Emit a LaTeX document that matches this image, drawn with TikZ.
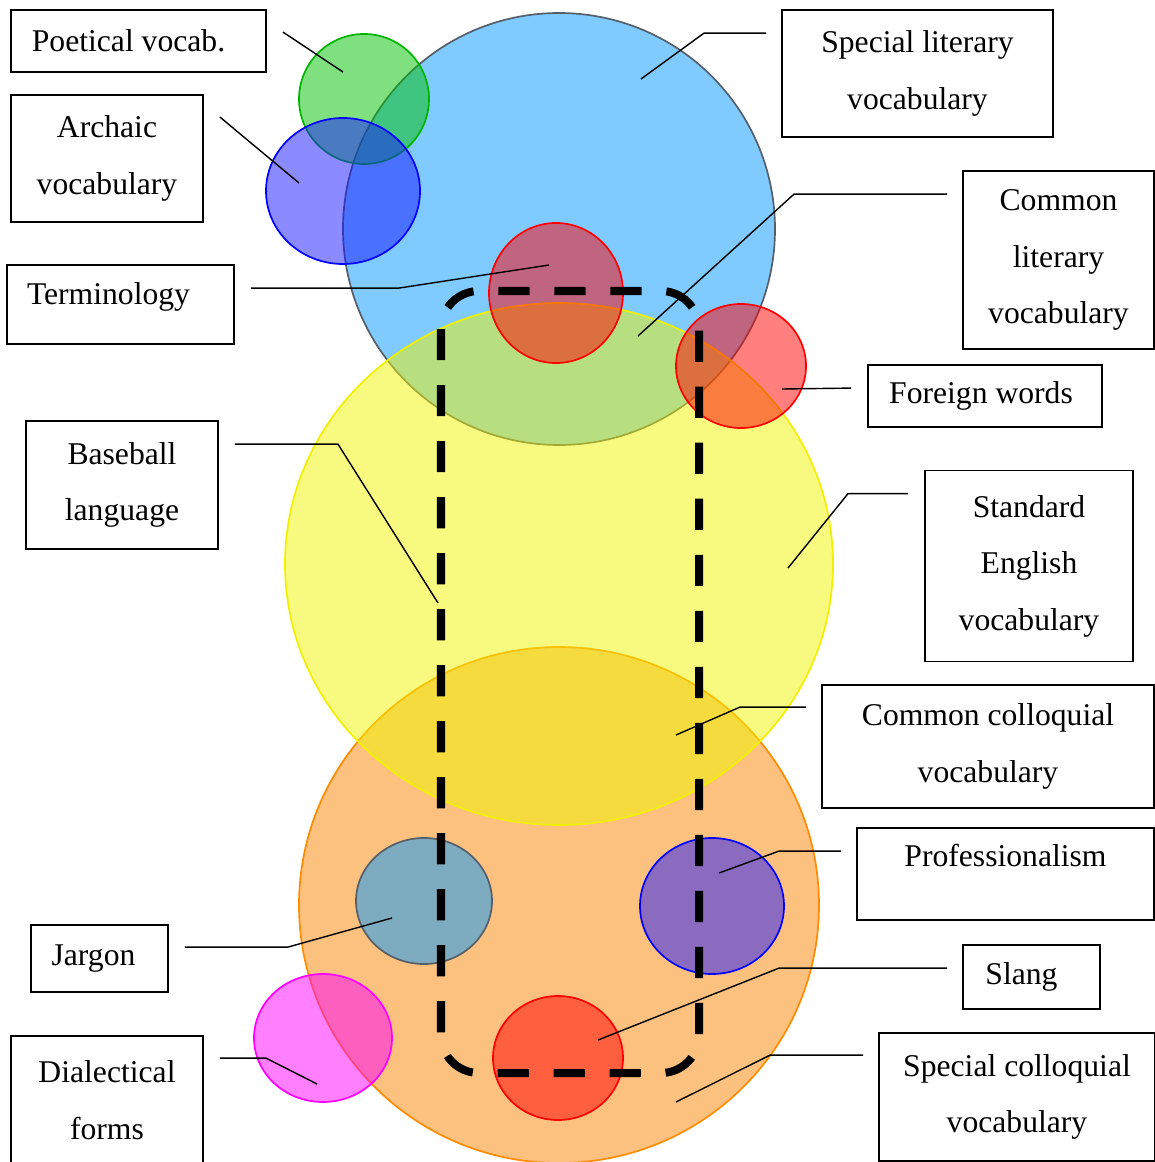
\documentclass[tikz,border=0pt]{standalone}
\usepackage{fontspec}
\setmainfont{Liberation Serif}
\usetikzlibrary{calc}

\definecolor{skyfill}{RGB}{0,150,255}
\definecolor{edgegray}{RGB}{85,95,105}
\definecolor{sunfill}{RGB}{240,245,0}
\definecolor{sunedge}{RGB}{240,240,0}
\definecolor{orfill}{RGB}{251,131,0}
\definecolor{oredge}{RGB}{255,140,0}
\definecolor{grfill}{RGB}{0,193,0}
\definecolor{gredge}{RGB}{0,180,0}
\definecolor{bufill}{RGB}{23,23,255}
\definecolor{puredge}{RGB}{0,0,255}
\definecolor{redfill}{RGB}{255,0,0}
\definecolor{magfill}{RGB}{255,0,255}

\begin{document}
\begin{tikzpicture}[x=0.025cm,y=-0.025cm,
  lbl/.style={draw,line width=1.3pt,inner sep=0pt,align=center,
    font=\fontsize{22.5}{40.2}\selectfont},
  leader/.style={line width=1pt},
  blob/.style={line width=1.2pt,fill opacity=0.5},
  dashbox/.style={line width=5.7pt,dash pattern=on 0.78cm off 0.62cm,rounded corners=0.95cm}]
\clip (0,0) rectangle (1155,1162);

\draw[blob,draw=edgegray,fill=skyfill] (559,229) ellipse [x radius=216,y radius=216];
\draw[blob,draw=oredge,fill=orfill] (559,905) ellipse [x radius=260,y radius=258];
\draw[blob,draw=sunedge,fill=sunfill] (559,564) ellipse [x radius=274,y radius=261];

\draw[blob,draw=gredge,fill=grfill] (364,99) ellipse [x radius=65,y radius=65];
\draw[blob,draw=puredge,fill=bufill] (343,191) ellipse [x radius=77,y radius=73];
\draw[blob,draw=redfill,fill=redfill] (556,293) ellipse [x radius=67,y radius=70];
\draw[blob,draw=redfill,fill=redfill] (741,366) ellipse [x radius=65,y radius=62];
\draw[blob,draw=edgegray,fill=skyfill] (424,901) ellipse [x radius=68,y radius=63];
\draw[blob,draw=puredge,fill=bufill] (712,906) ellipse [x radius=72,y radius=68];
\draw[blob,draw=redfill,fill=redfill] (558,1058) ellipse [x radius=65,y radius=62];
\draw[blob,draw=magfill,fill=magfill] (323,1038) ellipse [x radius=69,y radius=64];

\draw[dashbox] (441,291) rectangle (699,1073);

\node[lbl,minimum width=6.375cm,minimum height=1.55cm] (poet) at (138.5,41) {Poetical vocab.\hspace*{0.5cm}};
\node[lbl,minimum width=4.8cm,minimum height=3.175cm] (arch) at (107,158.5) {Archaic\\vocabulary};
\node[lbl,minimum width=5.675cm,minimum height=1.975cm,text depth=0.55cm] (term) at (120.5,304.5) {Terminology\hspace*{0.6cm}};
\node[lbl,minimum width=4.8cm,minimum height=3.2cm] (base) at (122,485) {Baseball\\language};
\node[lbl,minimum width=3.425cm,minimum height=1.675cm] (jarg) at (99.5,958.5) {Jargon\hspace*{0.3cm}};
\node[lbl,minimum width=4.8cm,minimum height=3.2cm] (dial) at (107,1100) {Dialectical\\forms};
\node[lbl,minimum width=6.775cm,minimum height=3.175cm] (spl) at (917.5,73.5) {Special literary\\vocabulary};
\node[lbl,minimum width=4.775cm,minimum height=4.45cm] (cl) at (1058.5,260) {Common\\literary\\vocabulary};
\node[lbl,minimum width=5.85cm,minimum height=1.55cm] (fw) at (985,396) {Foreign words\hspace*{0.2cm}};
\node[lbl,minimum width=5.2cm,minimum height=4.775cm] (se) at (1029,566) {Standard\\English\\vocabulary};
\node[lbl,minimum width=8.3cm,minimum height=3.075cm] (ccv) at (988,746.5) {Common colloquial\\vocabulary};
\node[lbl,minimum width=7.425cm,minimum height=2.3cm,text depth=0.95cm] (prof) at (1005.5,874) {Professionalism};
\node[lbl,minimum width=3.425cm,minimum height=1.6cm] (slang) at (1031.5,977) {Slang\hspace*{0.5cm}};
\node[lbl,minimum width=6.9cm,minimum height=3.2cm] (scv) at (1017,1097) {Special colloquial\\vocabulary};

\coordinate (poet-pt) at (343,72);
\coordinate (arch-pt) at (299,183);
\coordinate (term-pt) at (549,265);
\coordinate (base-pt) at (438,603);
\coordinate (jarg-pt) at (392,918);
\coordinate (dial-pt) at (317,1084);
\coordinate (spl-pt) at (641,79);
\coordinate (cl-pt) at (638,336);
\coordinate (fw-pt) at (782,389);
\coordinate (se-pt) at (788,568);
\coordinate (ccv-pt) at (676,735);
\coordinate (prof-pt) at (719,873);
\coordinate (slang-pt) at (598,1040);
\coordinate (scv-pt) at (676,1102);

\draw[leader] ($(poet.north east)+(16,23)$) -- (poet-pt);
\draw[leader] ($(arch.north east)+(16,23)$) -- (arch-pt);
\draw[leader] ($(term.north east)+(16,24)$) -- ++(148,0) -- (term-pt);
\draw[leader] ($(base.north east)+(16,24)$) -- ++(103,0) -- (base-pt);
\draw[leader] ($(jarg.north east)+(16,23)$) -- ++(103,0) -- (jarg-pt);
\draw[leader] ($(dial.north east)+(16,23)$) -- ++(46,0) -- (dial-pt);
\draw[leader] ($(spl.north west)+(-15,24)$) -- ++(-62,0) -- (spl-pt);
\draw[leader] ($(cl.north west)+(-15,24)$) -- ++(-153,0) -- (cl-pt);
\draw[leader] ($(fw.north west)+(-16,24)$) -- (fw-pt);
\draw[leader] ($(se.north west)+(-16,24)$) -- ++(-60,0) -- (se-pt);
\draw[leader] ($(ccv.north west)+(-15,23)$) -- ++(-66,0) -- (ccv-pt);
\draw[leader] ($(prof.north west)+(-15,24)$) -- ++(-62,0) -- (prof-pt);
\draw[leader] ($(slang.north west)+(-15,24)$) -- ++(-168,0) -- (slang-pt);
\draw[leader] ($(scv.north west)+(-15,23)$) -- ++(-93,0) -- (scv-pt);
\end{tikzpicture}
\end{document}
